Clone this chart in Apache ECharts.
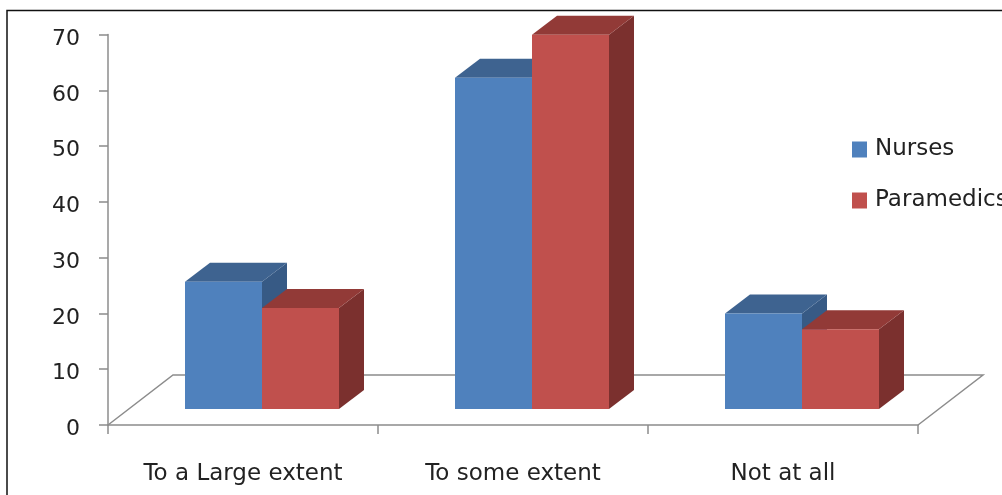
<!DOCTYPE html>
<html>
<head>
<meta charset="utf-8">
<style>html,body{margin:0;padding:0;background:#fff;overflow:hidden}#chart{width:1002px;height:495px}</style>
<script src="https://cdn.jsdelivr.net/npm/echarts@6/dist/echarts.min.js"></script>
</head>
<body>
<div id="chart"></div>
<script>
// Survey responses by staff group
const categories = ['To a Large extent', 'To some extent', 'Not at all'];
const nurses = [22.8, 59.4, 17.1];
const paramedics = [18.1, 67.1, 14.3];
const yTicks = { min: 0, max: 70, step: 10 };

// Extruded column look: depth of the floor, depth of each column, column placement
const floorDepth = { x: 65, y: -50 };
const barDepth = { x: 25, y: -19 };
const barInset = { x: 19, y: -16 };
const barShare = 77 / 270;

function column(offset, front, top, side) {
  return function (params, api) {
    const idx = api.value(0);
    const head = api.coord([idx, api.value(1)]);
    const foot = api.coord([idx, 0]);
    const w = api.size([1, 0])[0] * barShare;
    const x0 = head[0] + barInset.x + offset * w;
    const x1 = x0 + w;
    const yT = head[1] + barInset.y;
    const yB = foot[1] + barInset.y;
    const dx = barDepth.x, dy = barDepth.y;
    return {
      type: 'group',
      children: [
        { type: 'polygon', shape: { points: [[x1, yT], [x1 + dx, yT + dy], [x1 + dx, yB + dy], [x1, yB]] }, style: { fill: side } },
        { type: 'polygon', shape: { points: [[x0, yT], [x0 + dx, yT + dy], [x1 + dx, yT + dy], [x1, yT]] }, style: { fill: top } },
        { type: 'rect', shape: { x: x0, y: yT, width: w, height: yB - yT }, style: { fill: front } }
      ]
    };
  };
}

function floor(params, api) {
  const s = params.coordSys;
  const L = s.x, R = s.x + s.width, B = s.y + s.height;
  const dx = floorDepth.x, dy = floorDepth.y;
  return {
    type: 'polyline',
    shape: { points: [[L, B], [L + dx, B + dy], [R + dx, B + dy], [R, B]] },
    style: { stroke: '#8c8c8c', lineWidth: 1.5, fill: null }
  };
}

const toRows = arr => arr.map((v, i) => [i, v]);
const labelFont = '"DejaVu Sans", sans-serif';

const chart = echarts.init(document.getElementById('chart'), null, { renderer: 'canvas' });
chart.setOption({
  animation: false,
  backgroundColor: '#fff',
  graphic: [{
    type: 'polyline', silent: true,
    shape: { points: [[7, 505], [7, 10.5], [1010, 10.5]] },
    style: { stroke: '#111', lineWidth: 1.5, fill: null }
  }],
  grid: { left: 108, right: 84, top: 34.5, height: 390.5 },
  xAxis: {
    type: 'category',
    data: categories,
    axisLine: { lineStyle: { color: '#8c8c8c', width: 1.5 } },
    axisTick: { show: true, alignWithLabel: false, length: 9, lineStyle: { color: '#8c8c8c', width: 1.5 } },
    axisLabel: { color: '#222', fontFamily: labelFont, fontSize: 23, margin: 38 }
  },
  yAxis: {
    type: 'value',
    min: yTicks.min, max: yTicks.max, interval: yTicks.step,
    splitLine: { show: false },
    axisLine: { show: true, lineStyle: { color: '#8c8c8c', width: 1.5 } },
    axisTick: { show: true, length: 9, lineStyle: { color: '#8c8c8c', width: 1.5 } },
    axisLabel: { color: '#222', fontFamily: labelFont, fontSize: 22, margin: 28, verticalAlign: 'top', lineHeight: 9 }
  },
  legend: {
    orient: 'vertical', left: 847, top: 133,
    itemWidth: 15, itemHeight: 16, itemGap: 28,
    icon: 'rect',
    data: ['Nurses', 'Paramedics'],
    textStyle: { color: '#222', fontFamily: labelFont, fontSize: 23, padding: [0, 0, 0, 3] }
  },
  series: [
    { type: 'custom', name: 'floor', silent: true, z: 1, data: [[0, 0]], renderItem: floor },
    { type: 'custom', name: 'Nurses', z: 2, itemStyle: { color: '#4f81bd' }, encode: { x: 0, y: 1 },
      data: toRows(nurses), renderItem: column(-1, '#4f81bd', '#3e6390', '#375a85') },
    { type: 'custom', name: 'Paramedics', z: 3, itemStyle: { color: '#c0504d' }, encode: { x: 0, y: 1 },
      data: toRows(paramedics), renderItem: column(0, '#c0504d', '#923a37', '#7b302e') }
  ]
});
</script>
</body>
</html>
